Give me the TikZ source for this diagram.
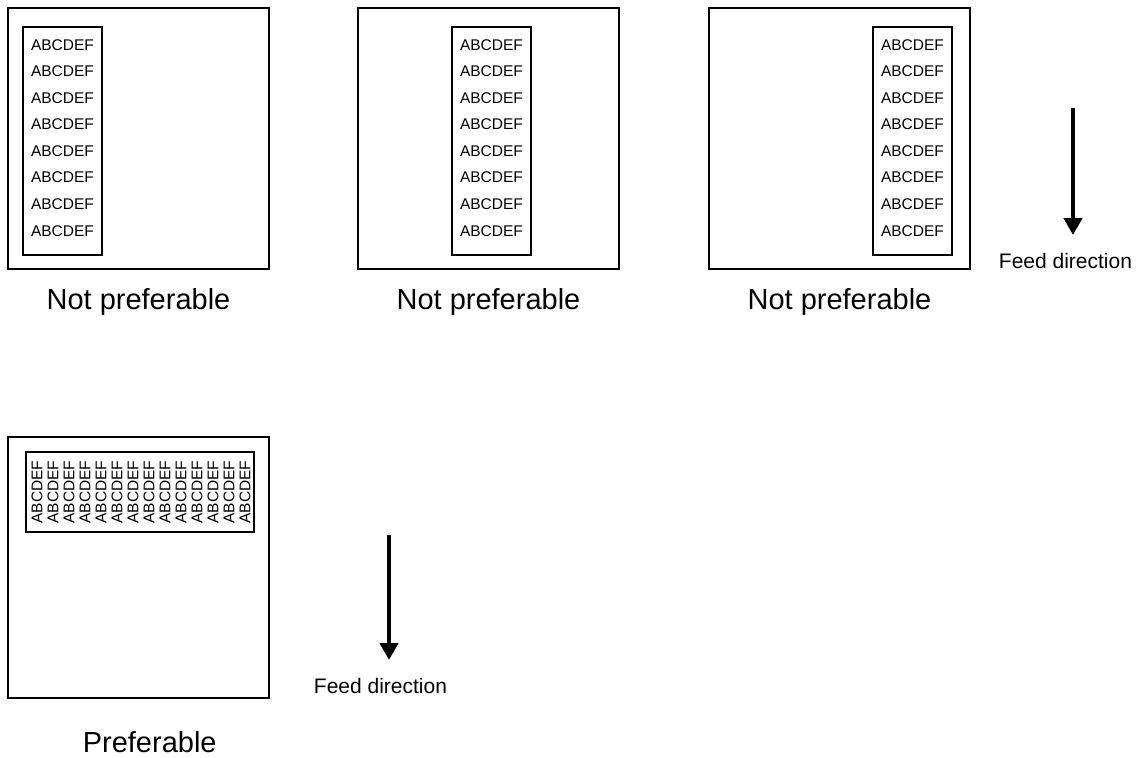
\documentclass[tikz,border=0pt]{standalone}
\usepackage{fontspec}
\setmainfont{Liberation Sans}
\usetikzlibrary{arrows.meta}
\begin{document}
\begin{tikzpicture}[x=1pt,y=-1pt,
  sheet/.style={draw=black,line width=1.6pt,fill=none},
  column/.style={draw=black,line width=1.6pt,fill=none},
  row/.style={inner sep=0pt,font=\fontsize{15.5}{16}\selectfont},
  caption/.style={inner sep=0pt,anchor=base,font=\fontsize{29}{30}\selectfont},
  feedlabel/.style={inner sep=0pt,anchor=base,font=\fontsize{21}{22}\selectfont},
  feed/.style={line width=4.8pt,-{Triangle[width=18pt,length=17pt]}}]
\useasboundingbox (0,0) rectangle (1144,758);
% top row sheets
\draw[sheet] (8,8) rectangle (269,269);
\draw[sheet] (358,8) rectangle (619,269);
\draw[sheet] (709,8) rectangle (970,269);
\node[column,minimum width=79pt,minimum height=228pt,inner sep=0pt] (in1) at (62.5,141) {};
\node[column,minimum width=79pt,minimum height=228pt,inner sep=0pt] (in2) at (491.5,141) {};
\node[column,minimum width=79pt,minimum height=228pt,inner sep=0pt] (in3) at (912.5,141) {};
\foreach \i in {0,...,7}{
  \node[row] (r1\i) at (62.5,45+26.53*\i) {ABCDEF};
  \node[row] (r2\i) at (491.5,45+26.53*\i) {ABCDEF};
  \node[row] (r3\i) at (912.5,45+26.53*\i) {ABCDEF};
}
\node[caption] (c1) at (138.5,309) {Not preferable};
\node[caption] (c2) at (488.5,309) {Not preferable};
\node[caption] (c3) at (839.5,309) {Not preferable};
% arrow 1
\coordinate (a1s) at (1073,108);
\coordinate (a1e) at (1073,235);
\draw[feed] (a1s) -- (a1e);
\node[feedlabel] (f1) at (1065.5,268) {Feed direction};
% bottom sheet
\draw[sheet] (8,437) rectangle (269,698);
\node[column,minimum width=228pt,minimum height=80pt,inner sep=0pt] (in4) at (140,492) {};
\foreach \j in {0,...,13}{
  \node[row,rotate=90] (v\j) at (37+16*\j,492) {ABCDEF};
}
\node[caption] (c4) at (149.7,752) {Preferable};
% arrow 2
\coordinate (a2s) at (389,535);
\coordinate (a2e) at (389,660);
\draw[feed] (a2s) -- (a2e);
\node[feedlabel] (f2) at (380.5,693) {Feed direction};
\end{tikzpicture}
\end{document}
